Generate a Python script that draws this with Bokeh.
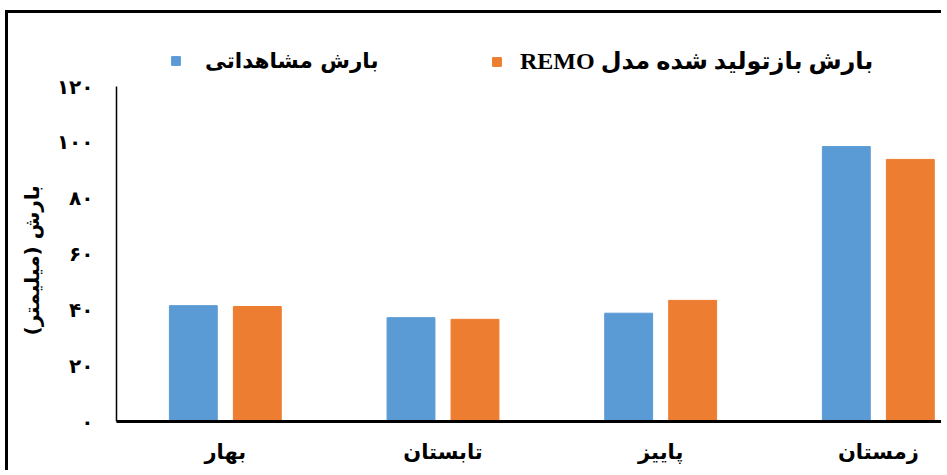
import numpy as np
from bokeh.plotting import figure
from bokeh.models import Range1d, FixedTicker, Legend, LegendItem, Title
from bokeh.embed import file_html
from bokeh.resources import INLINE

# ---- data ----
categories = ["بهار", "تابستان", "پاییز", "زمستان"]
observed = [41.5, 37.2, 38.8, 98.5]
remo = [41.2, 36.6, 43.4, 93.9]
y_ticks = [0, 20, 40, 60, 80, 100, 120]
y_tick_labels = ["۰", "۲۰", "۴۰", "۶۰", "۸۰", "۱۰۰", "۱۲۰"]
series_names = ["بارش مشاهداتی", "\u202bبارش بازتولید شده مدل REMO\u202c"]
y_title = "بارش (میلیمتر)"

BLUE = "#5B9BD5"
ORANGE = "#ED7D31"
FONT = "DejaVu Sans"

xs = np.arange(len(categories)) + 0.5
off = 0.147
bw = 0.22

p = figure(width=936, height=460,
           x_range=Range1d(0, 3.804), y_range=Range1d(0, 136.5),
           output_backend="svg", toolbar_location=None,
           min_border_left=106, min_border_top=27,
           min_border_bottom=52, min_border_right=0)
p.styles = {"border-top": "3px solid black", "border-left": "3px solid black",
            "margin-left": "5px", "margin-top": "10px"}
p.xgrid.visible = False
p.ygrid.visible = False
p.outline_line_color = None
p.background_fill_color = "white"
p.border_fill_color = "white"

r1 = p.vbar(x=xs - off, top=observed, width=bw, fill_color=BLUE, line_color=BLUE)
r2 = p.vbar(x=xs + off, top=remo, width=bw, fill_color=ORANGE, line_color=ORANGE)

# y axis
ya = p.yaxis[0]
ya.bounds = (y_ticks[0], y_ticks[-1])
ya.ticker = FixedTicker(ticks=y_ticks)
ya.major_label_overrides = {t: l for t, l in zip(y_ticks, y_tick_labels)}
ya.major_label_text_font = FONT
ya.major_label_text_font_size = "20px"
ya.major_label_text_font_style = "bold"
ya.major_label_text_color = "black"
ya.major_tick_line_color = None
ya.minor_tick_line_color = None
ya.axis_line_color = "black"
ya.axis_line_width = 1.5
ya.major_label_standoff = 17

ytitle = Title(text=y_title, align="left", offset=86, standoff=19,
               text_font=FONT, text_font_size="20px", text_font_style="bold",
               text_color="black")
p.add_layout(ytitle, "left")

# x axis
xa = p.xaxis[0]
xa.ticker = FixedTicker(ticks=list(xs))
xa.major_label_overrides = {float(x): c for x, c in zip(xs, categories)}
xa.major_label_text_font = FONT
xa.major_label_text_font_size = "21px"
xa.major_label_text_font_style = "bold"
xa.major_label_text_color = "black"
xa.major_tick_line_color = None
xa.minor_tick_line_color = None
xa.axis_line_color = "black"
xa.axis_line_width = 3
xa.major_label_standoff = 12

common = dict(orientation="horizontal", glyph_width=11, glyph_height=11,
              padding=0, margin=0, border_line_color=None,
              background_fill_alpha=0, label_text_font_style="bold",
              label_text_color="black")
legend1 = Legend(items=[LegendItem(label=series_names[0], renderers=[r1])],
                 location=(54, 348), label_standoff=24,
                 label_text_font=FONT, label_text_font_size="21.5px", **common)
legend2 = Legend(items=[LegendItem(label=series_names[1], renderers=[r2])],
                 location=(375, 346), label_standoff=18,
                 label_text_font="Liberation Serif, DejaVu Sans",
                 label_text_font_size="24px", **common)
p.add_layout(legend1)
p.add_layout(legend2)

open("out.html", "w").write(file_html(p, INLINE))
